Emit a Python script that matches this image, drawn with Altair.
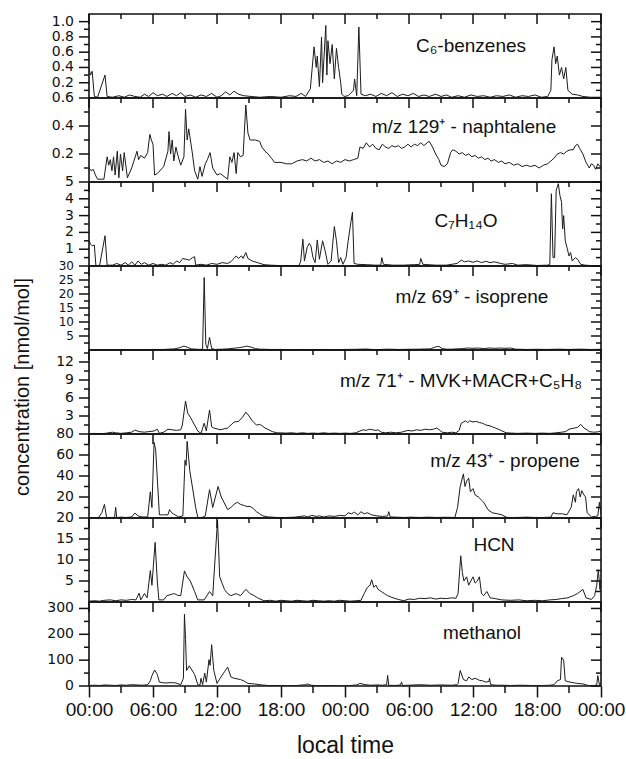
import altair as alt
import pandas as pd

FONT = "Liberation Sans"
TICK_FONT = "DejaVu Sans"
W, H = 512, 84          # plot size of each stacked panel
INK = "#111111"

# ---- time axis (hours since first midnight) ----
HOURS_MAJOR = [0, 6, 12, 18, 24, 30, 36, 42, 48]
HOURS_MINOR = [3, 9, 15, 21, 27, 33, 39, 45]

# ---- measured mixing ratios, (hour, nmol/mol) ----
BENZENES = [(0,0.38),(0.15,0.30),(0.3,0.35),(0.5,0.02),(0.8,0.01),(1.5,0.30),(1.7,0.02),(2.2,0.01),(2.8,0.03),(3.3,0.01),(3.8,0.04),(4.3,0.02),(4.8,0.01),(5.2,0.05),(5.6,0.02),(6.0,0.07),(6.4,0.03),(6.9,0.05),(7.3,0.02),(7.8,0.06),(8.2,0.03),(8.6,0.07),(9.0,0.02),(9.5,0.04),(10.0,0.01),(10.5,0.04),(11.0,0.02),(11.5,0.06),(12.0,0.01),(12.4,0.03),(12.8,0.08),(13.2,0.04),(13.6,0.09),(14.0,0.05),(14.5,0.03),(15.2,0.02),(16.0,0.01),(17.0,0.02),(18.0,0.01),(18.8,0.03),(19.4,0.02),(19.9,0.06),(20.3,0.02),(20.75,0.12),(21.1,0.67),(21.3,0.40),(21.4,0.55),(21.6,0.15),(21.8,0.80),(21.9,0.20),(22.2,0.95),(22.3,0.30),(22.4,0.75),(22.6,0.45),(22.8,0.70),(23.0,0.25),(23.2,0.65),(23.4,0.40),(23.6,0.20),(23.7,0.05),(23.9,0.02),(24.3,0.03),(24.8,0.10),(24.9,0.25),(25.1,0.03),(25.3,0.93),(25.5,0.05),(25.9,0.03),(26.4,0.05),(26.9,0.02),(27.4,0.06),(27.9,0.03),(28.4,0.07),(28.9,0.02),(29.4,0.05),(29.9,0.03),(30.4,0.06),(30.9,0.02),(31.4,0.04),(31.9,0.02),(32.5,0.05),(33.0,0.02),(33.5,0.04),(34.0,0.01),(34.6,0.03),(35.2,0.01),(35.8,0.04),(36.4,0.02),(37.0,0.03),(37.6,0.01),(38.2,0.03),(38.8,0.02),(39.4,0.04),(40.0,0.01),(40.6,0.03),(41.2,0.02),(41.8,0.04),(42.4,0.01),(43.0,0.02),(43.3,0.10),(43.4,0.50),(43.6,0.67),(43.75,0.45),(43.9,0.55),(44.1,0.30),(44.3,0.40),(44.5,0.25),(44.7,0.40),(44.9,0.10),(45.3,0.05),(45.8,0.04),(46.3,0.02),(47.0,0.01),(48.0,0.01)]

NAPHTALENE = [(0,0.10),(0.2,0.08),(0.4,0.09),(0.6,0.05),(0.8,0.02),(1.4,0.02),(1.7,0.18),(1.85,0.12),(2.0,0.16),(2.15,0.08),(2.3,0.18),(2.45,0.05),(2.65,0.22),(2.8,0.03),(2.95,0.20),(3.15,0.08),(3.3,0.21),(3.6,0.03),(4.0,0.10),(4.5,0.22),(4.65,0.16),(4.85,0.19),(5.2,0.17),(5.5,0.21),(5.7,0.34),(5.85,0.30),(6.0,0.27),(6.15,0.05),(6.4,0.06),(7.0,0.11),(7.4,0.22),(7.5,0.36),(7.65,0.20),(7.8,0.30),(7.95,0.15),(8.15,0.25),(8.3,0.20),(8.6,0.12),(8.9,0.18),(9.05,0.52),(9.2,0.30),(9.35,0.38),(9.7,0.20),(9.9,0.08),(10.2,0.02),(10.4,0.11),(10.6,0.04),(10.9,0.13),(11.1,0.16),(11.35,0.21),(11.6,0.10),(12.0,0.05),(12.3,0.06),(13.0,0.02),(13.2,0.18),(13.4,0.14),(13.6,0.21),(13.8,0.06),(13.95,0.21),(14.2,0.18),(14.45,0.19),(14.7,0.55),(14.9,0.35),(15.1,0.30),(15.6,0.30),(16.0,0.29),(16.2,0.25),(16.5,0.22),(16.8,0.20),(17.1,0.17),(17.4,0.14),(18.0,0.14),(18.5,0.13),(19.0,0.13),(19.5,0.15),(20.0,0.16),(20.4,0.15),(20.8,0.17),(21.2,0.15),(21.6,0.16),(22.0,0.14),(22.4,0.15),(22.8,0.13),(23.2,0.15),(23.6,0.14),(24.0,0.16),(24.4,0.15),(24.8,0.16),(25.2,0.17),(25.4,0.25),(25.7,0.24),(26.0,0.28),(26.3,0.25),(26.6,0.27),(26.9,0.24),(27.2,0.23),(27.5,0.27),(27.8,0.25),(28.1,0.24),(28.4,0.26),(28.7,0.25),(29.0,0.26),(29.3,0.24),(29.6,0.25),(29.9,0.27),(30.2,0.25),(30.5,0.27),(30.8,0.26),(31.1,0.28),(31.4,0.26),(31.7,0.28),(31.9,0.29),(32.2,0.25),(32.5,0.20),(32.8,0.16),(33.0,0.12),(33.3,0.11),(33.6,0.13),(33.9,0.21),(34.1,0.23),(34.4,0.22),(34.7,0.20),(35.0,0.21),(35.3,0.19),(35.6,0.20),(35.9,0.18),(36.2,0.19),(36.5,0.17),(36.8,0.18),(37.1,0.16),(37.4,0.17),(37.7,0.15),(38.0,0.16),(38.4,0.14),(38.7,0.15),(39.0,0.13),(39.4,0.14),(39.8,0.12),(40.2,0.13),(40.6,0.11),(41.0,0.12),(41.4,0.11),(41.8,0.12),(42.2,0.10),(42.6,0.12),(43.0,0.13),(43.3,0.15),(43.6,0.17),(43.9,0.20),(44.2,0.21),(44.5,0.20),(44.8,0.22),(45.1,0.23),(45.4,0.23),(45.6,0.26),(45.8,0.27),(46.0,0.24),(46.3,0.20),(46.6,0.14),(46.9,0.10),(47.1,0.13),(47.3,0.12),(47.5,0.09),(47.7,0.13),(47.9,0.11),(48.0,0.12)]

C7H14O = [(0,1.5),(0.15,1.3),(0.3,1.2),(0.5,1.25),(0.65,0.0),(1.0,0.05),(1.5,1.8),(1.7,0.05),(2.2,0.05),(2.6,0.15),(3.0,0.05),(3.4,0.2),(3.7,0.05),(4.0,0.25),(4.3,0.05),(4.6,0.3),(4.9,0.1),(5.2,0.2),(5.6,0.05),(6.0,0.15),(6.4,0.05),(6.8,0.1),(7.2,0.05),(7.6,0.2),(7.9,0.1),(8.2,0.3),(8.5,0.2),(8.8,0.45),(9.1,0.4),(9.4,0.35),(9.7,0.5),(9.9,0.55),(10.0,0.05),(10.5,0.1),(11.0,0.05),(11.5,0.15),(12.0,0.1),(12.5,0.2),(13.0,0.15),(13.3,0.26),(13.6,0.45),(13.8,0.6),(14.0,0.45),(14.3,0.6),(14.45,0.45),(14.7,0.8),(14.9,0.45),(15.3,0.3),(15.8,0.2),(16.4,0.08),(17.0,0.05),(18.0,0.02),(19.0,0.03),(19.7,0.03),(19.85,0.3),(20.05,1.6),(20.2,0.3),(20.45,1.1),(20.65,1.35),(20.8,1.2),(21.0,0.5),(21.2,0.2),(21.4,1.55),(21.6,0.4),(21.9,1.5),(22.1,1.0),(22.4,0.1),(22.7,0.3),(23.0,2.35),(23.2,1.5),(23.4,0.2),(23.6,0.5),(23.8,0.1),(24.1,0.5),(24.3,1.5),(24.55,2.6),(24.7,3.2),(24.85,0.15),(25.2,0.1),(26.0,0.08),(26.8,0.05),(27.35,0.05),(27.45,0.5),(27.6,0.1),(28.5,0.05),(29.5,0.05),(30.5,0.08),(31.0,0.1),(31.1,0.45),(31.3,0.1),(32.5,0.05),(33.5,0.05),(34.5,0.15),(34.9,0.35),(35.2,0.25),(35.6,0.3),(36.0,0.22),(36.4,0.3),(36.8,0.2),(37.2,0.28),(37.6,0.2),(38.0,0.25),(38.6,0.15),(39.0,0.1),(39.7,0.15),(40.2,0.05),(41.0,0.08),(42.0,0.03),(43.0,0.05),(43.2,0.1),(43.35,4.3),(43.5,0.5),(43.65,0.5),(43.8,4.5),(44.0,4.9),(44.15,4.2),(44.3,3.8),(44.4,2.2),(44.5,3.0),(44.65,1.5),(44.85,1.0),(45.0,0.6),(45.15,0.8),(45.3,0.3),(45.6,0.5),(45.8,0.4),(46.1,0.1),(46.5,0.05),(47.2,0.02),(48.0,0.02)]

ISOPRENE = [(0,0.1),(1,0.1),(2,0.15),(3,0.1),(4,0.15),(5,0.1),(6,0.2),(7,0.2),(7.5,0.3),(8.0,0.4),(8.5,0.8),(8.9,1.4),(9.2,1.0),(9.6,0.4),(10.0,0.3),(10.5,0.2),(10.65,0.5),(10.8,25.9),(10.95,2.0),(11.1,0.5),(11.3,4.5),(11.5,0.5),(11.8,0.2),(12.5,0.3),(13.0,0.4),(13.5,0.6),(14.0,0.8),(14.5,1.1),(14.8,1.4),(15.2,1.0),(15.6,0.5),(16.0,0.3),(17,0.2),(18,0.2),(19,0.15),(20,0.2),(21,0.15),(22,0.2),(23,0.15),(24,0.2),(25,0.25),(26,0.35),(26.5,0.2),(27,0.15),(28,0.3),(29,0.2),(30,0.25),(31,0.3),(32.0,0.4),(32.5,1.1),(32.8,1.3),(33.1,0.5),(33.5,0.3),(34,0.3),(35.0,0.5),(35.5,0.7),(36.0,0.6),(36.5,0.7),(37.0,0.5),(37.5,0.7),(38.0,0.6),(38.5,0.7),(39.0,0.6),(39.5,0.7),(40.0,0.3),(41,0.2),(42,0.25),(43,0.2),(44,0.3),(45,0.2),(46,0.3),(47,0.2),(48,0.25)]

MVK_MACR = [(0,0.05),(0.5,0.1),(1.0,0.05),(1.5,0.1),(2.2,0.3),(2.5,0.2),(3.0,0.1),(3.5,0.2),(4.0,0.3),(4.3,0.65),(4.7,0.4),(5.2,0.3),(5.6,0.4),(6.1,0.5),(6.4,0.8),(6.6,0.1),(7.0,0.3),(7.4,0.8),(7.8,0.7),(8.2,0.6),(8.6,0.7),(8.75,1.5),(9.05,5.5),(9.25,3.5),(9.5,2.8),(10.2,0.5),(10.5,0.1),(10.8,1.8),(11.0,0.5),(11.3,4.0),(11.5,1.2),(11.7,1.0),(12.3,0.7),(13.0,1.0),(13.6,2.0),(14.0,2.1),(14.4,2.8),(14.7,3.65),(15.0,3.0),(15.3,2.2),(15.7,1.5),(16.0,1.6),(16.2,1.4),(16.5,1.0),(17.2,0.4),(17.6,0.2),(18.5,0.15),(19.0,0.2),(19.5,0.1),(20.0,0.2),(20.5,0.1),(21.0,0.15),(21.5,0.1),(22.0,0.2),(22.5,0.1),(23.0,0.15),(23.5,0.1),(24.0,0.15),(24.5,0.1),(25.0,0.2),(25.4,0.5),(25.7,0.7),(26.0,0.6),(26.3,0.8),(26.6,0.7),(26.9,0.6),(27.1,0.7),(27.4,0.3),(27.8,0.2),(28.3,0.3),(28.8,0.2),(29.3,0.3),(29.9,0.6),(30.3,0.5),(30.7,0.7),(31.1,0.6),(31.5,0.8),(31.9,0.7),(32.3,0.8),(32.6,1.0),(32.9,0.6),(33.1,0.3),(33.6,0.2),(34.0,0.3),(34.4,0.2),(34.7,0.6),(34.9,1.8),(35.1,2.0),(35.3,2.2),(35.5,1.9),(35.7,2.2),(36.0,2.0),(36.3,2.1),(36.6,1.9),(36.9,1.8),(37.2,1.5),(37.5,1.4),(37.8,1.2),(38.1,1.0),(38.5,0.7),(39.1,0.2),(39.6,0.15),(40.2,0.1),(41.0,0.15),(41.8,0.1),(42.5,0.15),(43.2,0.1),(43.8,0.2),(44.3,0.3),(44.7,0.4),(45.0,0.8),(45.5,1.0),(45.8,1.1),(46.1,1.6),(46.4,1.0),(46.6,0.8),(46.9,0.4),(47.3,0.3),(47.7,0.35),(48.0,0.5)]

PROPENE = [(0,0.5),(0.5,0.3),(0.9,0.5),(1.2,5),(1.45,13),(1.65,0.5),(2.0,0.5),(2.4,0.5),(2.5,10.3),(2.6,0.5),(3.0,0.8),(3.5,0.5),(4.0,1.0),(4.3,4.7),(4.6,2.0),(5.0,1.0),(5.5,1.0),(5.75,25),(5.9,10),(6.1,72),(6.25,65),(6.6,3),(7.0,3),(7.4,3),(7.55,8),(7.75,5),(7.9,4),(8.4,1),(8.8,2),(9.0,55),(9.1,50),(9.2,73),(9.45,45),(10.0,10),(10.2,0.5),(10.6,0.5),(10.9,2),(11.3,27),(11.6,10),(12.1,30),(12.4,20),(13.0,8),(13.3,10),(13.6,13),(13.9,15),(14.2,13),(14.5,12),(14.8,11),(15.1,11),(15.4,9),(15.7,6),(16.0,4),(16.3,2),(16.8,1),(17.6,0.5),(18.5,0.5),(19.3,0.8),(19.8,1.5),(20.2,2),(20.5,1),(20.9,2.5),(21.3,1.5),(21.6,2),(22.0,1),(22.5,2),(23.0,1.5),(23.5,2.5),(24.0,2),(24.3,5),(24.6,4),(24.9,5.5),(25.2,3),(25.5,6),(25.8,4),(26.1,5),(26.5,3),(27.0,2),(27.5,1.5),(28.0,2),(28.1,6),(28.25,1),(28.8,0.8),(29.5,0.5),(30.2,0.8),(31.0,0.5),(31.8,0.8),(32.6,0.5),(33.4,0.7),(34.3,0.5),(34.55,10),(34.8,30),(35.1,42),(35.25,30),(35.4,35),(35.6,38),(35.75,25),(36.0,28),(36.2,22),(36.5,20),(36.8,17),(37.0,15),(37.4,8),(37.8,5),(38.3,4),(38.7,3),(39.2,0.5),(40.0,0.5),(41.0,0.8),(41.8,0.5),(42.6,0.5),(43.3,0.8),(43.5,5),(43.9,4),(44.4,4),(44.8,3),(45.2,10),(45.4,22),(45.6,15),(45.7,25),(45.9,28),(46.05,20),(46.2,26),(46.4,22),(46.55,20),(46.7,5),(47.1,1),(47.5,1.5),(47.7,2),(47.85,15),(48.0,3)]

HCN = [(0,0.2),(0.5,0.3),(1.0,0.2),(1.4,0.4),(2.0,0.5),(2.5,0.3),(3.0,0.5),(3.5,0.4),(4.0,0.6),(4.4,0.5),(4.7,2.1),(4.85,0.5),(5.2,2.0),(5.45,1.0),(5.75,7.5),(5.9,4.0),(6.2,14.2),(6.4,5.0),(6.55,0.5),(7.0,0.5),(7.3,1.5),(7.7,1.8),(8.0,2.0),(8.3,1.6),(8.6,1.5),(8.95,7.4),(9.2,6.0),(9.5,5.0),(9.9,2.5),(10.2,0.5),(10.8,0.5),(11.3,2.5),(11.6,1.5),(12.05,19.5),(12.25,6.0),(12.7,3.0),(13.0,2.0),(13.3,1.5),(13.8,2.0),(14.2,1.5),(14.7,3.0),(15.1,2.0),(15.5,1.5),(15.8,1.0),(16.4,0.3),(17.0,0.4),(17.5,0.2),(18.0,0.4),(18.5,0.3),(19.0,0.2),(19.5,0.4),(20.0,0.3),(20.5,0.2),(21.0,0.4),(21.5,0.3),(22.0,0.2),(22.5,0.3),(23.0,0.2),(23.5,0.4),(24.0,0.3),(24.5,0.2),(25.0,0.3),(25.5,0.4),(25.8,2.0),(26.1,3.5),(26.35,4.0),(26.5,5.3),(26.7,3.5),(26.9,4.0),(27.1,3.0),(27.4,2.5),(27.7,2.0),(28.0,1.5),(28.5,1.0),(29.0,0.6),(29.5,0.3),(30.0,0.7),(30.5,0.6),(31.0,0.9),(31.5,0.8),(32.0,1.0),(32.5,0.7),(33.0,0.9),(33.5,0.8),(34.0,1.0),(34.4,0.9),(34.6,2.0),(34.85,11.0),(35.0,7.0),(35.15,5.0),(35.4,6.0),(35.6,4.0),(35.8,5.0),(36.0,6.0),(36.2,4.5),(36.4,5.0),(36.6,6.0),(36.8,2.0),(37.0,1.5),(37.3,2.5),(37.6,1.0),(38.1,0.8),(38.7,0.5),(39.5,0.4),(40.3,0.5),(41.0,0.3),(41.8,0.4),(42.5,0.3),(43.2,0.5),(43.8,0.6),(44.3,0.8),(44.9,1.0),(45.4,1.5),(45.8,2.0),(46.3,3.0),(46.6,1.0),(47.1,0.6),(47.4,1.5),(47.6,4.0),(47.75,7.7),(47.9,3.0),(48.0,5.0)]

METHANOL = [(0,2),(0.5,3),(1.0,2),(1.5,4),(2.0,3),(2.5,2),(3.0,4),(3.5,3),(4.0,5),(4.5,4),(5.0,3),(5.5,5),(5.75,20),(5.9,40),(6.15,62),(6.4,45),(6.6,15),(7.0,12),(7.3,12),(7.7,13),(8.1,12),(8.6,5),(8.85,30),(8.95,278),(9.05,180),(9.15,60),(9.4,78),(9.9,45),(10.2,5),(10.4,3),(10.5,30),(10.65,5),(10.85,50),(11.0,15),(11.25,102),(11.35,80),(11.5,160),(11.7,60),(12.0,10),(12.3,30),(12.7,55),(13.0,73),(13.3,35),(13.6,30),(14.2,25),(14.6,18),(14.9,10),(15.5,8),(16.2,4),(16.8,2),(17.5,2),(18.5,1),(19.5,2),(20.3,5),(20.5,8),(20.8,3),(21.5,1),(22.5,2),(23.5,1),(24.5,2),(25.1,4),(25.4,10),(25.9,5),(26.4,3),(27.0,4),(27.5,3),(27.9,5),(28.0,41),(28.1,3),(28.7,2),(29.2,4),(29.3,15),(29.4,2),(30.0,3),(31.0,5),(32.0,3),(33.0,4),(34.0,3),(34.5,5),(34.6,10),(34.8,60),(35.1,25),(35.4,20),(35.6,35),(35.9,25),(36.2,30),(36.6,22),(36.9,20),(37.2,15),(37.5,18),(37.55,30),(37.65,5),(38.2,3),(38.7,3),(39.5,2),(40.5,3),(41.5,2),(42.5,2),(43.2,3),(43.6,5),(43.9,20),(44.2,25),(44.3,111),(44.5,100),(44.65,20),(45.1,15),(45.5,12),(45.8,10),(46.3,8),(46.8,2),(47.3,1),(47.6,5),(47.7,40),(47.85,5),(48.0,10)]

# ---- per-panel y ranges and tick values ----
Y_MAX = [1.1, 0.6, 5, 30, 14, 80, 20, 325]
Y_LABELED = [
    [0.2, 0.4, 0.6, 0.8, 1.0],
    [0.2, 0.4, 0.6],
    [1, 2, 3, 4, 5],
    [5, 10, 15, 20, 25, 30],
    [3, 6, 9, 12],
    [20, 40, 60, 80],
    [5, 10, 15, 20],
    [0, 100, 200, 300],
]
Y_MINOR = [
    [0.1, 0.3, 0.5, 0.7, 0.9],
    [0.1, 0.3, 0.5],
    [0.5, 1.5, 2.5, 3.5, 4.5],
    [2.5, 7.5, 12.5, 17.5, 22.5, 27.5],
    [1.5, 4.5, 7.5, 10.5, 13.5],
    [10, 30, 50, 70],
    [2.5, 7.5, 12.5, 17.5],
    [50, 150, 250],
]
Y_DECIMALS = [1, 1, 0, 0, 0, 0, 0, 0]
Y_LABEL_SIZE = [14, 14, 14, 12, 14, 14, 14, 14]
SERIES = [BENZENES, NAPHTALENE, C7H14O, ISOPRENE, MVK_MACR, PROPENE, HCN, METHANOL]
NAMES = [
    "C₆-benzenes",
    "m/z 129⁺ - naphtalene",
    "C₇H₁₄O",
    "m/z 69⁺ - isoprene",
    "m/z 71⁺ - MVK+MACR+C₅H₈",
    "m/z 43⁺ - propene",
    "HCN",
    "methanol",
]
# where each species name sits inside its panel (pixels: centre x, baseline y)
NAME_POS = [(382, 38), (375, 35), (377, 45), (383, 37), (372, 37), (416, 33), (405, 33), (393, 37)]
Y_TITLE = "concentration [nmol/mol]"
Y_TITLE_PANEL = 4

x_scale = alt.Scale(domain=[0, 48], nice=False, zero=False)
hour_label = "(datum.value % 24 < 10 ? '0' : '') + (datum.value % 24) + ':00'"


def rule(df, **enc):
    return alt.Chart(df).mark_rule(color=INK, strokeWidth=1.5).encode(**enc)


def panel(i):
    last = i == len(SERIES) - 1
    y_scale = alt.Scale(domain=[0, Y_MAX[i]], nice=False, zero=True)
    y_enc = alt.Y("value:Q", scale=y_scale, axis=None)

    if last:
        x_axis = alt.Axis(
            values=HOURS_MAJOR, labelExpr=hour_label, tickSize=11, tickWidth=1.5,
            tickColor=INK, domain=False, grid=False, labelFontSize=19, labelPadding=3,
            labelFont=FONT, labelColor=INK, labelFlush=False, labelOverlap=False,
            title="local time", titleFont=FONT, titleFontSize=23,
            titleFontWeight="normal", titleColor=INK, titlePadding=15,
        )
        x_enc = alt.X("hour:Q", scale=x_scale)
    else:
        x_axis = None
        x_enc = alt.X("hour:Q", scale=x_scale, axis=None)

    df = pd.DataFrame(SERIES[i], columns=["hour", "value"])
    trace = alt.Chart(df).mark_line(color="#1c1c1c", strokeWidth=1, clip=True).encode(
        x=alt.X("hour:Q", scale=x_scale, axis=x_axis),
        y=y_enc,
    )

    hmaj = pd.DataFrame({"hour": HOURS_MAJOR})
    hmin = pd.DataFrame({"hour": HOURS_MINOR})
    ymaj = pd.DataFrame({"value": Y_LABELED[i]})
    ymin = pd.DataFrame({"value": Y_MINOR[i]})

    layers = [
        trace,
        # inward ticks along the top edge
        rule(hmaj, x=x_enc, y=alt.value(0), y2=alt.value(10)),
        rule(hmin, x=x_enc, y=alt.value(0), y2=alt.value(5)),
        # outward ticks on the left, mirrored inward on the right
        rule(ymaj, y=y_enc, x=alt.value(-10), x2=alt.value(0)),
        rule(ymin, y=y_enc, x=alt.value(-5), x2=alt.value(0)),
        rule(ymaj, y=y_enc, x=alt.value(W - 10), x2=alt.value(W)),
        rule(ymin, y=y_enc, x=alt.value(W - 5), x2=alt.value(W)),
    ]

    # y tick labels
    lab = pd.DataFrame({
        "value": Y_LABELED[i],
        "label": [f"{v:.{Y_DECIMALS[i]}f}" for v in Y_LABELED[i]],
    })
    layers.append(
        alt.Chart(lab).mark_text(font=TICK_FONT, fontSize=Y_LABEL_SIZE[i], color=INK,
                                 align="right", baseline="middle").encode(
            y=y_enc, x=alt.value(-15), text="label:N")
    )

    # species name
    nx, ny = NAME_POS[i]
    layers.append(
        alt.Chart(pd.DataFrame({"label": [NAMES[i]]})).mark_text(
            font=FONT, fontSize=19, color=INK, align="center", baseline="alphabetic").encode(
            text="label:N", x=alt.value(nx), y=alt.value(ny))
    )

    if i == Y_TITLE_PANEL:
        layers.append(
            alt.Chart(pd.DataFrame({"label": [Y_TITLE]})).mark_text(
                font=FONT, fontSize=20, color=INK, align="center", baseline="middle",
                angle=270).encode(text="label:N", x=alt.value(-66), y=alt.value(37))
        )

    if last:
        layers.append(rule(hmin, x=x_enc, y=alt.value(H), y2=alt.value(H + 7)))

    return alt.layer(*layers).properties(width=W, height=H)


chart = alt.vconcat(*[panel(i) for i in range(len(SERIES))], spacing=0, bounds="flush").configure_view(
    stroke=INK, strokeWidth=1.6
).properties(
    padding={"left": 12, "top": 12, "right": 0, "bottom": 0},
    background="white",
)

chart.save("out.html", embed_options={"renderer": "svg", "actions": False})
